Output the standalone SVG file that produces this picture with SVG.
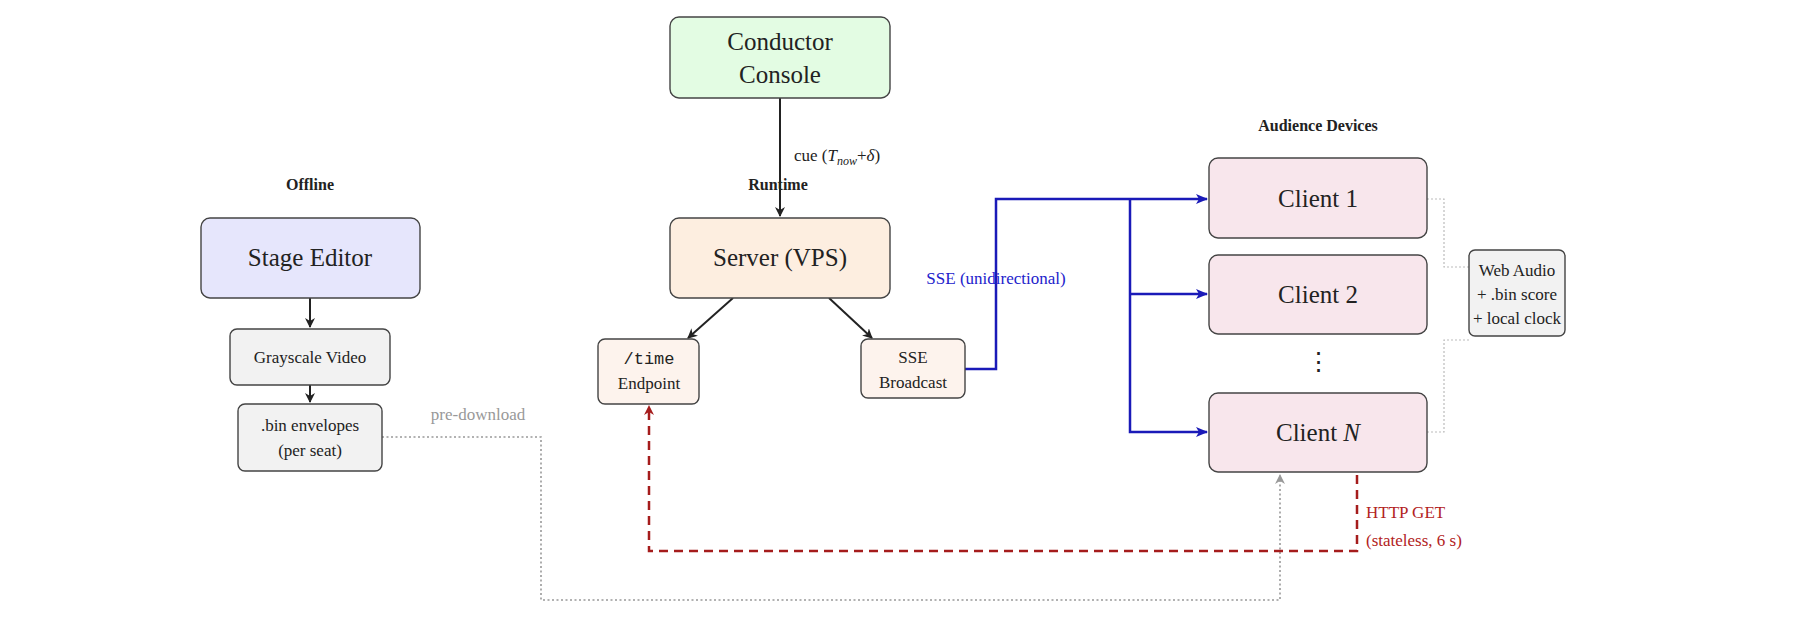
<svg xmlns="http://www.w3.org/2000/svg" width="1800" height="621" viewBox="0 0 1800 621">
<style>
text{font-family:"Liberation Serif","DejaVu Serif",serif;fill:#222;text-anchor:middle}
.b{stroke:#444;stroke-width:1.4}
.big{font-size:25px}
.sm{font-size:17px}
.hd{font-size:16px;font-weight:bold}
.mono{font-family:"Liberation Mono","DejaVu Sans Mono",monospace}
</style>
<defs>
<marker id="ak" markerWidth="10" markerHeight="10" refX="9" refY="5" orient="auto" markerUnits="userSpaceOnUse"><path d="M0,0 L10,5 L0,10 L3,5 z" fill="#222"/></marker>
<marker id="ab" markerWidth="12" markerHeight="10" refX="11" refY="5" orient="auto" markerUnits="userSpaceOnUse"><path d="M0,0 L12,5 L0,10 L3,5 z" fill="#1a1ab8"/></marker>
<marker id="ar" markerWidth="10" markerHeight="10" refX="9" refY="5" orient="auto" markerUnits="userSpaceOnUse"><path d="M0,0 L10,5 L0,10 L3,5 z" fill="#a51c1c"/></marker>
<marker id="ag" markerWidth="10" markerHeight="10" refX="9" refY="5" orient="auto" markerUnits="userSpaceOnUse"><path d="M0,0 L10,5 L0,10 L3,5 z" fill="#999"/></marker>
</defs>
<text class="hd" x="310" y="190">Offline</text>
<text class="hd" x="778" y="190">Runtime</text>
<text class="hd" x="1318" y="131">Audience Devices</text>
<g id="connectors" fill="none">
<path d="M780,98 V216" stroke="#222" stroke-width="2" marker-end="url(#ak)"/>
<path d="M733,298 L688,338" stroke="#222" stroke-width="2" marker-end="url(#ak)"/>
<path d="M829,298 L872,338" stroke="#222" stroke-width="2" marker-end="url(#ak)"/>
<path d="M310,298 V327" stroke="#222" stroke-width="2" marker-end="url(#ak)"/>
<path d="M310,385 V402" stroke="#222" stroke-width="2" marker-end="url(#ak)"/>
<path d="M965,369 H996 V199 H1207" stroke="#1a1ab8" stroke-width="2.5" marker-end="url(#ab)"/>
<path d="M1130,199 V432 H1207" stroke="#1a1ab8" stroke-width="2.5" marker-end="url(#ab)"/>
<path d="M1130,294 H1207" stroke="#1a1ab8" stroke-width="2.5" marker-end="url(#ab)"/>
<path d="M382,437 H541 V600 H1280 V475" stroke="#999" stroke-width="1.6" stroke-dasharray="2,2.5" marker-end="url(#ag)"/>
<path d="M1357,475 V551 H649 V406" stroke="#a51c1c" stroke-width="2.5" stroke-dasharray="9,6" marker-end="url(#ar)"/>
<path d="M1427,199 H1444 V267 H1469 M1427,432 H1444 V340 H1469" stroke="#bbb" stroke-width="1.2" stroke-dasharray="2,2"/>
</g>
<text class="sm" x="794" y="161" text-anchor="start" style="text-anchor:start">cue (<tspan font-style="italic">T</tspan><tspan font-style="italic" font-size="12" dy="4">now</tspan><tspan dy="-4">+</tspan><tspan font-style="italic">δ</tspan>)</text>
<text class="sm" x="996" y="284" style="fill:#2222cc">SSE (unidirectional)</text>
<text class="sm" x="478" y="420" style="fill:#999">pre-download</text>
<text class="sm" x="1366" y="518" style="text-anchor:start;fill:#b22222">HTTP GET</text>
<text class="sm" x="1366" y="546" style="text-anchor:start;fill:#b22222">(stateless, 6 s)</text>
<g id="conductor"><rect class="b" x="670" y="17" width="220" height="81" rx="9" fill="#e3fce3"/><text class="big" x="780" y="50">Conductor</text><text class="big" x="780" y="83">Console</text></g>
<g id="stage"><rect class="b" x="201" y="218" width="219" height="80" rx="9" fill="#e6e6fc"/><text class="big" x="310" y="266">Stage Editor</text></g>
<g id="grayscale"><rect class="b" x="230" y="329" width="160" height="56" rx="7" fill="#f2f2f2"/><text class="sm" x="310" y="363">Grayscale Video</text></g>
<g id="bin"><rect class="b" x="238" y="404" width="144" height="67" rx="7" fill="#f2f2f2"/><text class="sm" x="310" y="431">.bin envelopes</text><text class="sm" x="310" y="456">(per seat)</text></g>
<g id="server"><rect class="b" x="670" y="218" width="220" height="80" rx="9" fill="#fdeee0"/><text class="big" x="780" y="266">Server (VPS)</text></g>
<g id="time"><rect class="b" x="598" y="339" width="101" height="65" rx="7" fill="#fdf3ed"/><text class="sm mono" x="649" y="364" style="font-family:'Liberation Mono',monospace">/time</text><text class="sm" x="649" y="389">Endpoint</text></g>
<g id="sse"><rect class="b" x="861" y="339" width="104" height="59" rx="7" fill="#fdf3ed"/><text class="sm" x="913" y="363">SSE</text><text class="sm" x="913" y="388">Broadcast</text></g>
<g id="client1"><rect class="b" x="1209" y="158" width="218" height="80" rx="9" fill="#f8e6ec"/><text class="big" x="1318" y="207">Client 1</text></g>
<g id="client2"><rect class="b" x="1209" y="255" width="218" height="79" rx="9" fill="#f8e6ec"/><text class="big" x="1318" y="303">Client 2</text></g>
<text class="big" x="1318" y="370">⋮</text>
<g id="clientN"><rect class="b" x="1209" y="393" width="218" height="79" rx="9" fill="#f8e6ec"/><text class="big" x="1318" y="441">Client <tspan font-style="italic">N</tspan></text></g>
<g id="webaudio"><rect class="b" x="1469" y="250" width="96" height="86" rx="6" fill="#f2f2f2"/><text class="sm" x="1517" y="276">Web Audio</text><text class="sm" x="1517" y="300">+ .bin score</text><text class="sm" x="1517" y="324">+ local clock</text></g>
</svg>
